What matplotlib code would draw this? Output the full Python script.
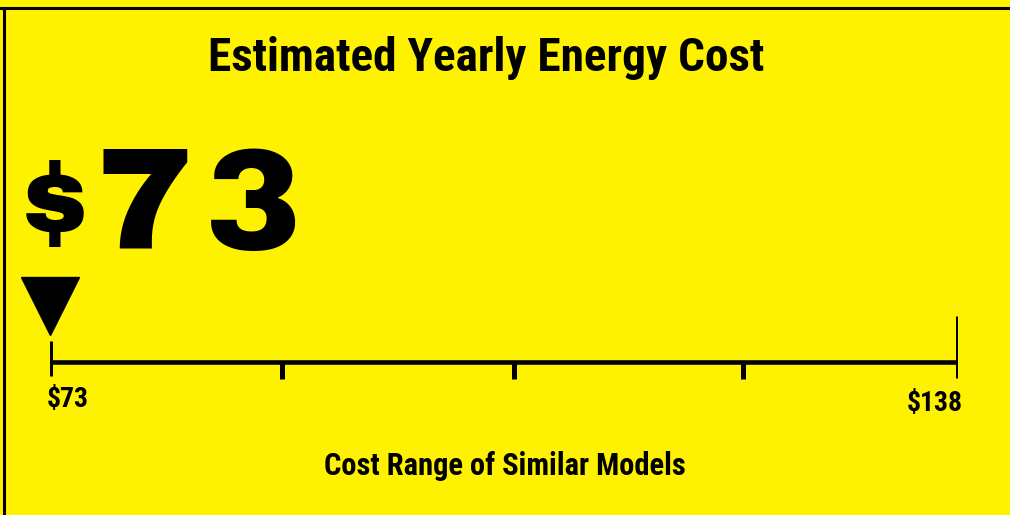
import matplotlib
matplotlib.use("Agg")
import matplotlib.pyplot as plt
from matplotlib.lines import Line2D

# label values
title = "Estimated Yearly Energy Cost"
yearly_cost = 73
range_low = 73
range_high = 138
tick_values = [73, 89.6, 106.2, 122.6, 138]
range_labels = ["$73", "$138"]
range_caption = "Cost Range of Similar Models"

YELLOW = "#FFF200"
W, H = 1010, 515

fig = plt.figure(figsize=(W / 100, H / 100), dpi=100, facecolor=YELLOW)

# overlay in pixel coords for text and frame
bg = fig.add_axes([0, 0, 1, 1])
bg.set_xlim(0, W)
bg.set_ylim(H, 0)
bg.axis("off")

narrow = ["Roboto Condensed", "DejaVu Sans"]
heavy = ["Archivo Black", "DejaVu Sans"]

bg.text(486, 71, title, ha="center", va="baseline", fontsize=34,
        fontweight="bold", family=narrow)

# big price: dollar sign smaller, digits spread out
bg.text(54, 240, "$", ha="center", va="baseline", fontsize=76, family=heavy)
digit_x = [145, 253]
for ch, x in zip(str(yearly_cost), digit_x):
    bg.text(x, 249, ch, ha="center", va="baseline", fontsize=104, family=heavy)

bg.text(505, 475, range_caption, ha="center", va="baseline", fontsize=22,
        fontweight="bold", family=narrow)

# frame (top and left edges)
fig.add_artist(Line2D([0, 1], [1 - 7.5 / H, 1 - 7.5 / H], color="black", lw=2.2,
                      transform=fig.transFigure))
fig.add_artist(Line2D([3.5 / W, 3.5 / W], [0, 1 - 7.5 / H], color="black", lw=2.2,
                      transform=fig.transFigure))

# cost scale
ax = fig.add_axes([50 / W, 0, 908 / W, 1])
ax.set_xlim(range_low, range_high)
ax.set_ylim(H, 0)
ax.axis("off")
ax.patch.set_alpha(0)

ax.plot([range_low, range_high], [361.5, 361.5], color="black", lw=3.3,
        solid_capstyle="butt")
for i, t in enumerate(tick_values):
    if i == 0:
        y0, y1 = 341, 376
    elif i == len(tick_values) - 1:
        y0, y1 = 316, 378
    else:
        y0, y1 = 361, 379
    ax.plot([t, t], [y0, y1], color="black", lw=3.6, solid_capstyle="butt")

ax.plot([yearly_cost], [306], marker="v", markersize=42, color="black",
        clip_on=False)

ax.text(range_low - 0.2, 407, range_labels[0], ha="left", va="baseline",
        fontsize=20, fontweight="bold", family=narrow)
ax.text(range_high + 0.36, 411, range_labels[1], ha="right", va="baseline",
        fontsize=20, fontweight="bold", family=narrow)

fig.savefig("out.png", dpi=100, facecolor=YELLOW)
